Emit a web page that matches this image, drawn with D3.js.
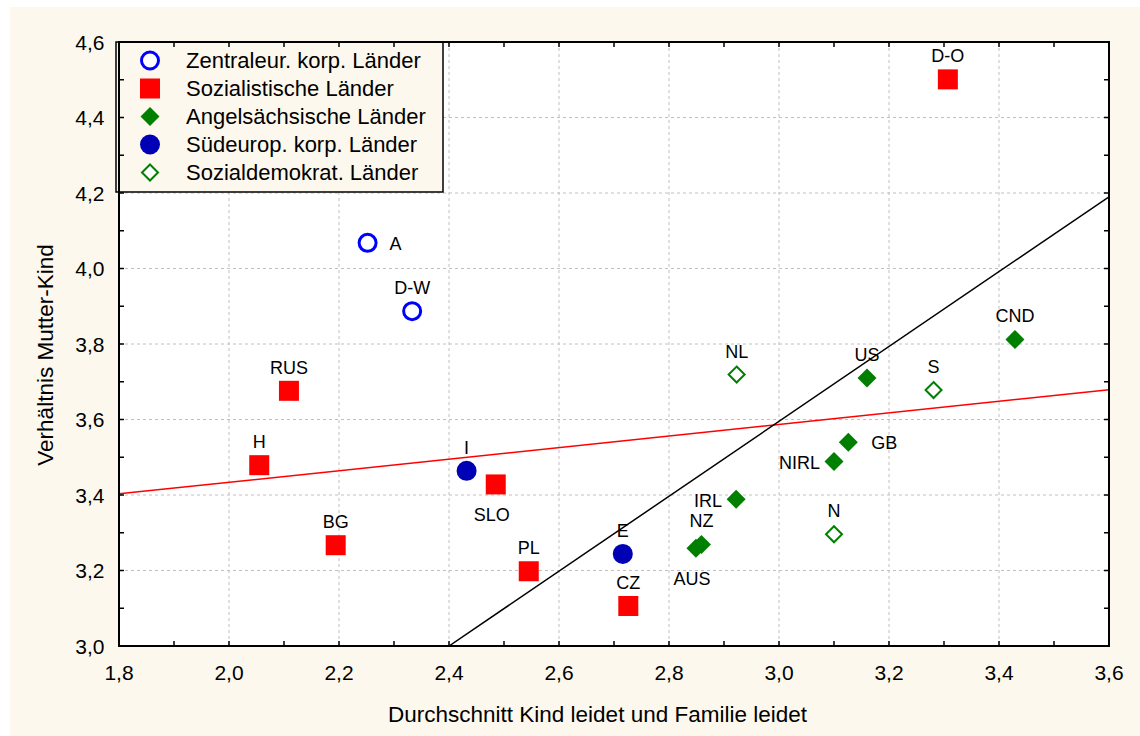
<!DOCTYPE html>
<html><head><meta charset="utf-8">
<script src="https://cdn.jsdelivr.net/npm/d3@7"></script>
<style>
html,body{margin:0;padding:0;background:#fff;}
svg{display:block;font-family:"Liberation Sans",Arial,sans-serif;}
</style></head>
<body>
<svg id="chart" width="1140" height="736"></svg>
<script>
// ---- data ----
const groups = ["Zentraleur. korp. Länder","Sozialistische Länder","Angelsächsische Länder","Südeurop. korp. Länder","Sozialdemokrat. Länder"];
const labels = ["A","D-W","RUS","H","BG","SLO","PL","CZ","D-O","I","E","NZ","AUS","IRL","NIRL","GB","US","CND","NL","S","N"];
const xVals  = [2.252,2.333,2.109,2.055,2.194,2.485,2.545,2.726,3.307,2.432,2.716,2.859,2.849,2.922,3.100,3.126,3.160,3.429,2.923,3.281,3.100];
const yVals  = [4.068,3.887,3.676,3.479,3.267,3.428,3.198,3.106,4.501,3.464,3.244,3.269,3.259,3.389,3.489,3.540,3.710,3.812,3.719,3.678,3.296];
const groupIdx = [0,0,1,1,1,1,1,1,1,3,3,2,2,2,2,2,2,2,4,4,4];
// label placement: a=above, b=below, r=right, l=left
const labelPos = ["r","a","a","a","a","b","a","a","a","a","a","a","b","l","l","r","a","a","a","a","a"];
const xTicks = [1.8,2.0,2.2,2.4,2.6,2.8,3.0,3.2,3.4,3.6];
const yTicks = [3.0,3.2,3.4,3.6,3.8,4.0,4.2,4.4,4.6];
const redLine = {x:[1.8,3.6], y:[3.403,3.679]};
const blackLine = {x:[2.4,3.6], y:[3.0,4.19]};
const xTitle = "Durchschnitt Kind leidet und Familie leidet";
const yTitle = "Verhältnis Mutter-Kind";

// ---- layout ----
const svg = d3.select("#chart");
const L=119, R=1109, T=42, B=646;
const x = d3.scaleLinear().domain([1.8,3.6]).range([L,R]);
const y = d3.scaleLinear().domain([3.0,4.6]).range([B,T]);
const fmt = d => d.toFixed(1).replace(".",",");

svg.append("rect").attr("x",10).attr("y",7).attr("width",1130).attr("height",729).attr("fill","#fdf8ee");
svg.append("rect").attr("x",L).attr("y",T).attr("width",R-L).attr("height",B-T).attr("fill","#fff");

const grid = svg.append("g").attr("stroke","#c0c0c0").attr("stroke-width",1).attr("stroke-dasharray","3,3");
xTicks.slice(1,-1).forEach(v=>grid.append("line").attr("x1",x(v)).attr("x2",x(v)).attr("y1",T).attr("y2",B));
yTicks.slice(1,-1).forEach(v=>grid.append("line").attr("y1",y(v)).attr("y2",y(v)).attr("x1",L).attr("x2",R));

// regression lines
svg.append("clipPath").attr("id","pc").append("rect").attr("x",L).attr("y",T).attr("width",R-L).attr("height",B-T);
const lineG = svg.append("g").attr("clip-path","url(#pc)");
lineG.append("line").attr("x1",x(redLine.x[0])).attr("y1",y(redLine.y[0])).attr("x2",x(redLine.x[1])).attr("y2",y(redLine.y[1])).attr("stroke","#ff0000").attr("stroke-width",1.5);
lineG.append("line").attr("x1",x(blackLine.x[0])).attr("y1",y(blackLine.y[0])).attr("x2",x(blackLine.x[1])).attr("y2",y(blackLine.y[1])).attr("stroke","#000").attr("stroke-width",1.5);

// markers
function drawMarker(g, gi, cx, cy){
  if(gi===0) g.append("circle").attr("cx",cx).attr("cy",cy).attr("r",8.5).attr("fill","#fff").attr("stroke","#0000ff").attr("stroke-width",3);
  else if(gi===1) g.append("rect").attr("x",cx-10).attr("y",cy-10).attr("width",20).attr("height",20).attr("fill","#ff0000");
  else if(gi===2) g.append("path").attr("d",`M${cx},${cy-9.5}L${cx+9.5},${cy}L${cx},${cy+9.5}L${cx-9.5},${cy}Z`).attr("fill","#007f00");
  else if(gi===3) g.append("circle").attr("cx",cx).attr("cy",cy).attr("r",10).attr("fill","#0000b4");
  else g.append("path").attr("d",`M${cx},${cy-8}L${cx+8},${cy}L${cx},${cy+8}L${cx-8},${cy}Z`).attr("fill","#fff").attr("stroke","#007f00").attr("stroke-width",2);
}
const pts = svg.append("g");
labels.forEach((lab,i)=>{
  const cx=x(xVals[i]), cy=y(yVals[i]);
  drawMarker(pts, groupIdx[i], cx, cy);
  const p = labelPos[i];
  const t = pts.append("text").text(lab).attr("font-size",18).attr("fill","#000").attr("dominant-baseline","central");
  if(p==="a") t.attr("x",cx).attr("y",cy-23).attr("text-anchor","middle");
  else if(p==="b") t.attr("x",cx-4).attr("y",cy+31).attr("text-anchor","middle");
  else if(p==="r") t.attr("x",cx+(groupIdx[i]===0?22:23)).attr("y",cy+1).attr("text-anchor","start");
  else t.attr("x",cx-14).attr("y",cy+2).attr("text-anchor","end");
});

// legend
const lg = svg.append("g");
lg.append("rect").attr("x",116).attr("y",T).attr("width",327).attr("height",150).attr("fill","#fdf8ee").attr("stroke","#000").attr("stroke-width",1.5);
groups.forEach((gname,i)=>{
  const cy = 60.5 + i*28;
  drawMarker(lg, i, 150, cy);
  lg.append("text").attr("x",186).attr("y",cy).attr("dominant-baseline","central").attr("font-size",22).text(gname);
});

// axes frame + ticks
const ax = svg.append("g");
ax.append("rect").attr("x",L).attr("y",T).attr("width",R-L).attr("height",B-T).attr("fill","none").attr("stroke","#000").attr("stroke-width",2);
const xMinor = d3.range(18,37).map(v=>v/10);
const yMinor = d3.range(30,47).map(v=>v/10);
xMinor.forEach(v=>{
  ax.append("line").attr("x1",x(v)).attr("x2",x(v)).attr("y1",B).attr("y2",B-5).attr("stroke","#000").attr("stroke-width",1.5);
  ax.append("line").attr("x1",x(v)).attr("x2",x(v)).attr("y1",T).attr("y2",T+5).attr("stroke","#000").attr("stroke-width",1.5);
});
yMinor.forEach(v=>{
  ax.append("line").attr("x1",L).attr("x2",L+5).attr("y1",y(v)).attr("y2",y(v)).attr("stroke","#000").attr("stroke-width",1.5);
  ax.append("line").attr("x1",R).attr("x2",R-5).attr("y1",y(v)).attr("y2",y(v)).attr("stroke","#000").attr("stroke-width",1.5);
});
xTicks.forEach(v=>ax.append("text").attr("x",x(v)).attr("y",672).attr("text-anchor","middle").attr("dominant-baseline","central").attr("font-size",21).text(fmt(v)));
yTicks.forEach(v=>ax.append("text").attr("x",104.5).attr("y",y(v)).attr("text-anchor","end").attr("dominant-baseline","central").attr("font-size",21).text(fmt(v)));

svg.append("text").attr("x",597.5).attr("y",714).attr("text-anchor","middle").attr("dominant-baseline","central").attr("font-size",22.5).text(xTitle);
svg.append("text").attr("transform","translate(45,355) rotate(-90)").attr("text-anchor","middle").attr("dominant-baseline","central").attr("font-size",22.5).text(yTitle);
</script>
</body></html>
